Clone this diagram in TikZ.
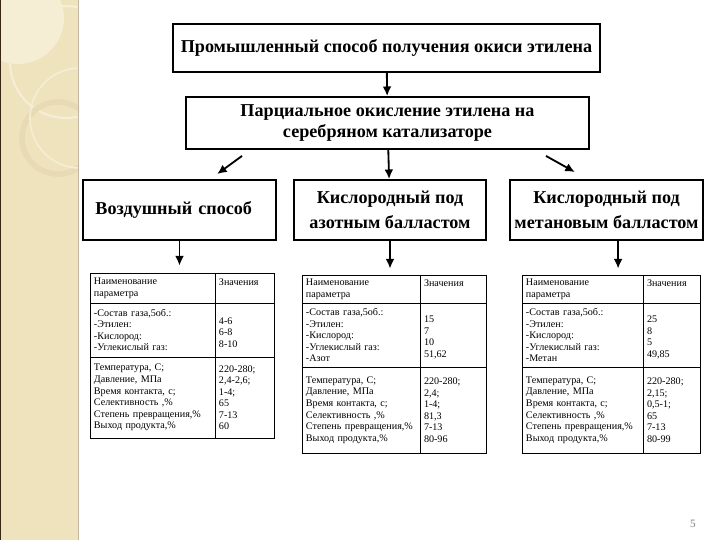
\documentclass[tikz,border=0pt]{standalone}
\usepackage{fontspec}
\setmainfont{Liberation Serif}
\usetikzlibrary{arrows.meta}
\definecolor{strip}{RGB}{239,227,190}
\definecolor{stripglow}{RGB}{245,237,212}
\definecolor{stripring}{RGB}{231,218,180}
\definecolor{stripedge}{RGB}{196,182,165}
\newcommand{\boxfont}{\fontsize{12.9}{15.6}\selectfont\bfseries}
\newcommand{\subfont}{\fontsize{12.9}{17.5}\selectfont\bfseries}
\newcommand{\cellfont}{\fontsize{7.2}{8.2}\selectfont}

\begin{document}
\begin{tikzpicture}[x=0.025cm, y=-0.025cm,
  hbox/.style={draw=black, line width=1.3pt, align=center, inner sep=0pt},
  cell/.style={draw=black, line width=0.6pt, inner xsep=0.1cm, inner ysep=0pt, align=left, font=\cellfont},
  arr/.style={->, >={Latex[length=2.4mm,width=2.2mm]}, line width=1.3pt}]
  \useasboundingbox (0,0) rectangle (720,540);

  \fill[strip] (0,0) rectangle (79,540);
  \begin{scope}
    \clip (0,0) rectangle (79,540);
    \fill[stripglow] (18,18) circle (46);
    \draw[stripglow, line width=1.6pt] (66,62) circle (56);
    \draw[stripring, line width=4pt] (58,138) circle (36);
    \draw[stripglow, line width=1.2pt] (80,118) circle (50);
  \end{scope}
  \draw[stripedge, line width=1pt] (78.5,0) -- (78.5,540);
  \draw[black!70!brown, line width=0.8pt] (0.5,0) -- (0.5,540);

  \node[hbox, minimum width=10.675cm, minimum height=1.2cm, font=\boxfont] (top)   at (386.5, 48) {Промышленный способ получения окиси этилена};
  \node[hbox, minimum width=10.075cm, minimum height=1.3cm, font=\boxfont] (part)  at (387.5,123) {Парциальное окисление этилена на\\серебряном катализаторе};
  \node[hbox, minimum width=4.825cm,  minimum height=1.5cm, font=\subfont, text width=4.2cm, align=left] (air) at (179.5,210) {Воздушный способ};
  \node[hbox, minimum width=4.8cm,    minimum height=1.5cm, font=\subfont] (nitro) at (390,  210) {Кислородный под\\азотным балластом};
  \node[hbox, minimum width=4.825cm,  minimum height=1.5cm, font=\subfont] (meth)  at (606.5,210) {Кислородный под\\метановым балластом};

  \draw[arr] (top) -- (part);
  \draw[arr] ([xshift=1.425cm,yshift=-0.15cm]part.south west) -- ([xshift=0.94cm,yshift=0.125cm]air.north);
  \draw[arr] (part) -- (nitro);
  \draw[arr] ([xshift=-1.1cm,yshift=-0.15cm]part.south east) -- ([xshift=-0.79cm,yshift=0.175cm]meth.north);

  % air table
  \node[cell, text width=2.925cm, minimum height=0.75cm]  (aHn) at (152.5,288)   {Наименование\\параметра};
  \node[cell, text width=1.275cm, minimum height=0.75cm]  (aHv) at (244.5,288)   {Значения\\\mbox{}};
  \node[cell, text width=2.925cm, minimum height=1.35cm]  (aGn) at (152.5,330)   {-Состав газа,5об.:\\-Этилен:\\-Кислород:\\-Углекислый газ:};
  \node[cell, text width=1.275cm, minimum height=1.35cm]  (aGv) at (244.5,330)   {\mbox{}\\4-6\\6-8\\8-10};
  \node[cell, text width=2.925cm, minimum height=2.025cm] (aPn) at (152.5,397.5) {Температура, С;\\Давление, МПа\\Время контакта, с;\\Селективность ,\%\\Степень превращения,\%\\Выход продукта,\%};
  \node[cell, text width=1.275cm, minimum height=2.025cm] (aPv) at (244.5,397.5) {220-280;\\2,4-2,6;\\1-4;\\65\\7-13\\60};

  % nitrogen table
  \node[cell, text width=2.75cm, minimum height=0.7cm]  (bHn) at (361,289) {Наименование\\параметра};
  \node[cell, text width=1.45cm, minimum height=0.7cm]  (bHv) at (453,289) {Значения\\\mbox{}};
  \node[cell, text width=2.75cm, minimum height=1.6cm]  (bGn) at (361,335) {-Состав газа,5об.:\\-Этилен:\\-Кислород:\\-Углекислый газ:\\-Азот};
  \node[cell, text width=1.45cm, minimum height=1.6cm]  (bGv) at (453,335) {\mbox{}\\15\\7\\10\\51,62};
  \node[cell, text width=2.75cm, minimum height=2.15cm] (bPn) at (361,410) {Температура, С;\\Давление, МПа\\Время контакта, с;\\Селективность ,\%\\Степень превращения,\%\\Выход продукта,\%};
  \node[cell, text width=1.45cm, minimum height=2.15cm] (bPv) at (453,410) {220-280;\\2,4;\\1-4;\\81,3\\7-13\\80-96};

  % methane table
  \node[cell, text width=2.825cm, minimum height=0.7cm]  (cHn) at (582.5,289) {Наименование\\параметра};
  \node[cell, text width=1.225cm, minimum height=0.7cm]  (cHv) at (671.5,289) {Значения\\\mbox{}};
  \node[cell, text width=2.825cm, minimum height=1.6cm]  (cGn) at (582.5,335) {-Состав газа,5об.:\\-Этилен:\\-Кислород:\\-Углекислый газ:\\-Метан};
  \node[cell, text width=1.225cm, minimum height=1.6cm]  (cGv) at (671.5,335) {\mbox{}\\25\\8\\5\\49,85};
  \node[cell, text width=2.825cm, minimum height=2.15cm] (cPn) at (582.5,410) {Температура, С;\\Давление, МПа\\Время контакта, с;\\Селективность ,\%\\Степень превращения,\%\\Выход продукта,\%};
  \node[cell, text width=1.225cm, minimum height=2.15cm] (cPv) at (671.5,410) {220-280;\\2,15;\\0,5-1;\\65\\7-13\\80-99};

  \draw[arr, shorten >=0.175cm] (air.south) -- (air.south |- aHn.north);
  \draw[arr, shorten >=0.15cm] (nitro.south) -- (nitro.south |- bHn.north);
  \draw[arr, shorten >=0.15cm] ([xshift=0.29cm]meth.south) -- ([xshift=0.29cm]meth.south |- cHn.north);

  \node[text=gray, font=\fontsize{8}{9}\selectfont] (pg) at (693,524) {5};
\end{tikzpicture}
\end{document}
